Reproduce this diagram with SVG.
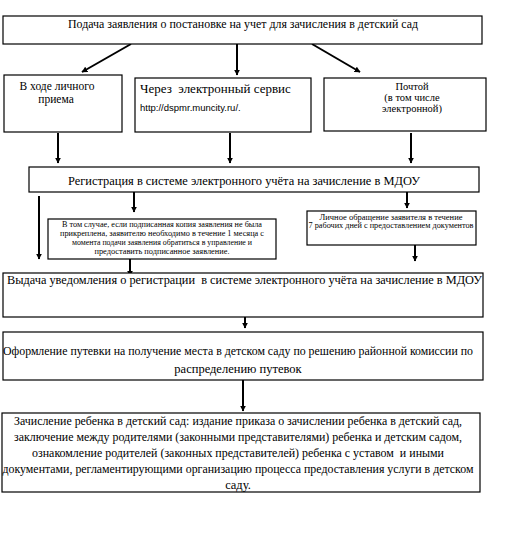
<svg xmlns="http://www.w3.org/2000/svg" width="527" height="556" viewBox="0 0 527 556">
<defs>
<marker id="ah" viewBox="0 0 10 10" refX="9" refY="5" markerWidth="6" markerHeight="6" markerUnits="userSpaceOnUse" orient="auto">
<path d="M0,0 L10,5 L0,10 Z" fill="#000"/>
</marker>
<style>
.box{fill:#fff;stroke:#000;stroke-width:1.2}
.t{font-family:"Liberation Serif","Times New Roman",serif;fill:#000}
.s{font-family:"Liberation Sans",Arial,sans-serif;fill:#000}
.c{stroke:#000;stroke-width:2;fill:none;marker-end:url(#ah)}
</style>
</defs>
<rect width="527" height="556" fill="#fff"/>
<g id="connectors">
<line class="c" x1="131" y1="44" x2="82" y2="72"/>
<line class="c" x1="237" y1="44" x2="237" y2="75"/>
<line class="c" x1="312" y1="44" x2="360" y2="72"/>
<line class="c" x1="58" y1="133" x2="58" y2="163"/>
<line class="c" x1="230" y1="133" x2="230" y2="163"/>
<line class="c" x1="411" y1="133" x2="411" y2="163"/>
<line class="c" x1="39" y1="196" x2="39" y2="259"/>
<line class="c" x1="134" y1="192" x2="134" y2="212"/>
<line class="c" x1="407" y1="192" x2="407" y2="208"/>
<line class="c" x1="130" y1="259" x2="130" y2="276"/>
<line class="c" x1="415" y1="245" x2="415" y2="261"/>
<line class="c" x1="245" y1="317" x2="245" y2="328"/>
<line class="c" x1="243" y1="380" x2="243" y2="411"/>
</g>
<g id="n-top">
<rect class="box" x="3" y="16" width="479" height="28"/>
<text class="t" x="243" y="28" font-size="11.5" text-anchor="middle" textLength="350" lengthAdjust="spacingAndGlyphs">Подача заявления о постановке на учет для зачисления в детский сад</text>
</g>
<g id="n-personal">
<rect class="box" x="4" y="75" width="118" height="57"/>
<text class="t" x="57" y="90" font-size="11.5" text-anchor="middle">В ходе личного</text>
<text class="t" x="56" y="103" font-size="11.5" text-anchor="middle">приема</text>
</g>
<g id="n-electronic">
<rect class="box" x="135" y="78" width="176" height="54"/>
<text class="t" x="140" y="93" font-size="13" xml:space="preserve">Через  электронный сервис</text>
<text class="s" x="140" y="111" font-size="9.5">http://dspmr.muncity.ru/.</text>
</g>
<g id="n-mail">
<rect class="box" x="324" y="78" width="162" height="53"/>
<text class="t" x="412" y="90" font-size="10.5" text-anchor="middle">Почтой</text>
<text class="t" x="412" y="101" font-size="10.5" text-anchor="middle">(в том числе</text>
<text class="t" x="412" y="112" font-size="10.5" text-anchor="middle">электронной)</text>
</g>
<g id="n-registration">
<rect class="box" x="29" y="167" width="450" height="25"/>
<text class="t" x="244" y="185" font-size="12" text-anchor="middle" textLength="352" lengthAdjust="spacingAndGlyphs">Регистрация  в системе электронного учёта на зачисление в МДОУ</text>
</g>
<g id="n-copy">
<rect class="box" x="48" y="219" width="228" height="40" stroke-width="1.6"/>
<text class="t" x="162" y="227" font-size="7.5" text-anchor="middle" textLength="200" lengthAdjust="spacingAndGlyphs">В  том случае, если подписанная копия заявления не была</text>
<text class="t" x="162" y="236" font-size="7.5" text-anchor="middle" textLength="204" lengthAdjust="spacingAndGlyphs">прикреплена,  заявителю необходимо в течение 1 месяца с</text>
<text class="t" x="162" y="245" font-size="7.5" text-anchor="middle" textLength="180" lengthAdjust="spacingAndGlyphs">момента подачи заявления обратиться в управление и</text>
<text class="t" x="162" y="254" font-size="7.5" text-anchor="middle" textLength="135" lengthAdjust="spacingAndGlyphs">предоставить подписанное заявление.</text>
</g>
<g id="n-visit">
<rect class="box" x="307" y="211" width="169" height="34"/>
<text class="t" x="391" y="220" font-size="7.5" text-anchor="middle" textLength="143" lengthAdjust="spacingAndGlyphs">Личное обращение заявителя в течение</text>
<text class="t" x="391" y="228" font-size="7.5" text-anchor="middle" textLength="165" lengthAdjust="spacingAndGlyphs">7 рабочих дней с предоставлением  документов</text>
</g>
<g id="n-notice">
<rect class="box" x="3" y="273" width="480" height="44"/>
<text class="t" x="7" y="284" font-size="12.5" textLength="475" lengthAdjust="spacingAndGlyphs" xml:space="preserve">Выдача уведомления о регистрации  в системе электронного учёта на зачисление в МДОУ</text>
</g>
<g id="n-voucher">
<rect class="box" x="3" y="332" width="480" height="48"/>
<text class="t" x="238" y="355" font-size="12.5" text-anchor="middle" textLength="470" lengthAdjust="spacingAndGlyphs">Оформление путевки на получение места в детском саду по решению районной комиссии по</text>
<text class="t" x="238" y="373" font-size="12.5" text-anchor="middle">распределению путевок</text>
</g>
<g id="n-enroll">
<rect class="box" x="2" y="413" width="478" height="79"/>
<text class="t" x="238" y="425" font-size="12.5" text-anchor="middle" textLength="448" lengthAdjust="spacingAndGlyphs">Зачисление ребенка в детский сад: издание приказа о зачислении ребенка в детский сад,</text>
<text class="t" x="238" y="441" font-size="12.5" text-anchor="middle" textLength="448" lengthAdjust="spacingAndGlyphs">заключение между родителями (законными представителями) ребенка и детским садом,</text>
<text class="t" x="238" y="457" font-size="12.5" text-anchor="middle" textLength="412" lengthAdjust="spacingAndGlyphs" xml:space="preserve">ознакомление родителей (законных представителей) ребенка с уставом  и иными</text>
<text class="t" x="238" y="473" font-size="12.5" text-anchor="middle" textLength="471" lengthAdjust="spacingAndGlyphs">документами, регламентирующими организацию процесса предоставления услуги в детском</text>
<text class="t" x="238" y="489" font-size="12.5" text-anchor="middle">саду.</text>
</g>
</svg>
